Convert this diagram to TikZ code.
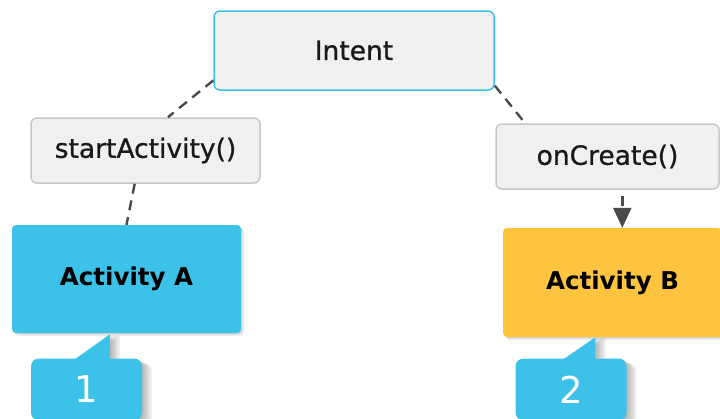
\documentclass[tikz,border=0pt]{standalone}
\usepackage{fontspec}
\setmainfont{DejaVu Sans}
\newfontfamily\callfont[FakeBold=0.8]{DejaVu Sans}
\usetikzlibrary{arrows.meta,calc}
\definecolor{skyblue}{HTML}{3CC1E9}
\definecolor{sunyellow}{HTML}{FEC43F}
\definecolor{boxfill}{HTML}{F0F0F0}
\definecolor{boxline}{HTML}{C6C6C6}
\definecolor{linkgray}{HTML}{4A4A4A}
\begin{document}
\begin{tikzpicture}[x=1pt,y=-1pt,
  callbox/.style={draw=boxline, fill=boxfill, line width=1.5pt, rounded corners=6pt,
    inner sep=0pt, text=black!90, font=\callfont\fontsize{26.5}{30}\selectfont},
  actbox/.style={fill=#1, rounded corners=4pt, inner sep=0pt,
    font=\bfseries\fontsize{24.5}{28}\selectfont},
  link/.style={draw=linkgray, line width=2.4pt, dash pattern=on 10pt off 7pt},
  badge/.style={fill=skyblue, rounded corners=8pt, minimum width=111pt,
    minimum height=62pt, inner sep=0pt, text=white, font=\fontsize{37}{40}\selectfont},
  softshade/.style={fill=black, opacity=0.06}
]
\useasboundingbox (0,0) rectangle (720,418);

% soft shadows under the activity boxes
\foreach \s in {1,2,3} {
  \fill[softshade, rounded corners=4pt] (12+\s,225+\s) rectangle (241+\s,333+\s);
  \fill[softshade, rounded corners=4pt] (503+\s,228+\s) rectangle (724,337+\s);
}

% call boxes
\node[callbox, draw=skyblue, minimum width=280pt, minimum height=79pt] (intent) at (354,50.5) {Intent};
\node[callbox, minimum width=229pt, minimum height=65pt] (start) at (145.5,150.5) {startActivity()};
\node[callbox, minimum width=223pt, minimum height=65pt] (oncreate) at (607.5,156.5) {onCreate()};

% activities
\node[actbox=skyblue, minimum width=229pt, minimum height=108pt] (acta) at (126.5,279) {Activity A};
\node[actbox=sunyellow, minimum width=219pt, minimum height=109pt] (actb) at (612.5,282.5) {Activity B};

% connectors
\draw[link] (intent.192) -- (start.56);
\draw[link] (start.252) -- (acta.north);
\draw[link] (intent.346) -- (oncreate.158);
\draw[link, shorten <=6pt, -{Triangle[length=20pt,width=18pt]}, fill=linkgray]
  (oncreate.294) -- (oncreate.294 |- actb.north);

% step badges with their drop shadows
\coordinate (p1) at (86.5,389.5);
\coordinate (p2) at (571,389.5);
\foreach \p/\a/\b/\c in {p1/44/79/24, p2/48/80/21} {
  \foreach \s in {2,4,6,8,10} {
    \fill[softshade, rounded corners=8pt]
      ($(\p)+(-55.5+\s,-31+\s/2)$) rectangle ($(\p)+(55.5+\s,31+\s)$);
    \fill[softshade]
      ($(\p)+(-55.5+\a+\s,-30)$) -- ($(\p)+(-55.5+\b+\s,-31-\c)$) -- ($(\p)+(-55.5+\b+\s,-30)$) -- cycle;
  }
}
\node[badge] (b1) at (p1) {1};
\node[badge] (b2) at (p2) {2};
\fill[skyblue] ($(b1.north west)+(44,1)$) -- ($(b1.north west)+(79,-24)$) -- ($(b1.north west)+(79,1)$) -- cycle;
\fill[skyblue] ($(b2.north west)+(48,1)$) -- ($(b2.north west)+(80,-21)$) -- ($(b2.north west)+(80,1)$) -- cycle;
\end{tikzpicture}
\end{document}
